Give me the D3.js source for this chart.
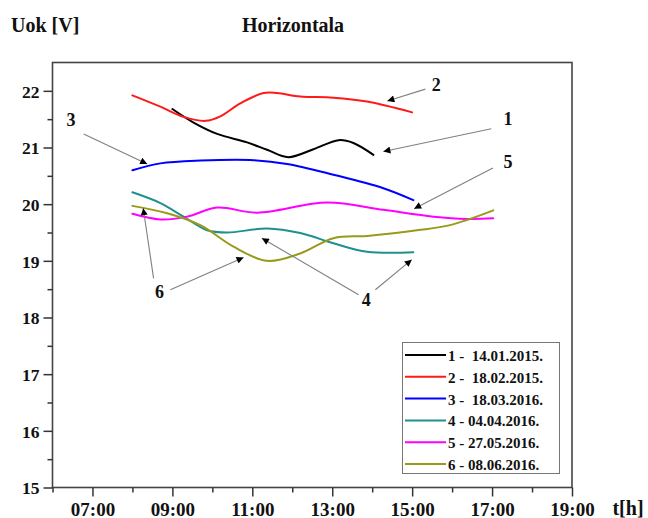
<!DOCTYPE html>
<html><head><meta charset="utf-8">
<script src="https://cdn.jsdelivr.net/npm/d3@7"></script>
<style>
html,body{margin:0;padding:0;background:#fff;}
text{font-family:"Liberation Serif","Times New Roman",serif;font-weight:bold;fill:#111;}
</style></head>
<body><svg id="c" width="648" height="518"></svg>
<script>
// ---- data ----
const seriesNames = ["1 -  14.01.2015.","2 -  18.02.2015.","3 -  18.03.2016.","4 - 04.04.2016.","5 - 27.05.2016.","6 - 08.06.2016."];
const seriesColors = ["#000000","#ff1a1a","#0000ff","#1f9090","#ff00ff","#9a9a1a"];
const s1h = [9.0, 9.53, 10.12, 10.87, 11.37, 11.9, 12.53, 13.16, 13.53, 14.03];
const s1v = [21.68, 21.44, 21.24, 21.09, 20.96, 20.83, 20.97, 21.13, 21.08, 20.87];
const s2h = [8.0, 8.7, 9.28, 9.83, 10.2, 10.7, 11.28, 11.62, 12.2, 13.03, 13.87, 15.0];
const s2v = [21.92, 21.72, 21.54, 21.47, 21.55, 21.78, 21.96, 21.96, 21.9, 21.88, 21.81, 21.62];
const s3h = [8.0, 8.7, 9.7, 10.95, 11.87, 13.03, 14.28, 15.03];
const s3v = [20.6, 20.72, 20.77, 20.78, 20.71, 20.52, 20.28, 20.07];
const s4h = [8.0, 8.7, 9.28, 9.87, 10.37, 11.37, 12.2, 13.03, 13.87, 15.03];
const s4v = [20.21, 20.02, 19.78, 19.54, 19.5, 19.57, 19.49, 19.31, 19.16, 19.15];
const s5h = [8.0, 8.7, 9.37, 10.12, 11.12, 12.87, 14.28, 15.53, 16.37, 17.03];
const s5v = [19.83, 19.73, 19.78, 19.94, 19.85, 20.03, 19.9, 19.78, 19.74, 19.75];
const s6h = [8.0, 8.87, 9.7, 10.53, 11.37, 12.2, 13.03, 13.87, 15.12, 15.95, 17.03];
const s6v = [19.97, 19.84, 19.63, 19.25, 19.0, 19.13, 19.4, 19.44, 19.54, 19.63, 19.89];
const xTickValues = [7, 9, 11, 13, 15, 17, 19];
const xTickLabels = ["07:00","09:00","11:00","13:00","15:00","17:00","19:00"];
const yTickValues = [15, 16, 17, 18, 19, 20, 21, 22];
const yTickLabels = ["15","16","17","18","19","20","21","22"];
// annotations in data units: label, label position, arrows [fromH, fromV, toH, toV]
const annLabels = ["2","1","5","3","6","4"];
const annPos = [[15.6,22.0],[17.4,21.4],[17.4,20.64],[6.46,21.38],[8.68,18.35],[13.85,18.2]];
const annArrows = [
  [[15.33,22.03,14.38,21.82]],
  [[16.98,21.33,14.28,20.93]],
  [[17.02,20.64,15.05,19.92]],
  [[6.78,21.24,8.37,20.71]],
  [[8.53,18.69,8.27,19.93],[8.95,18.49,10.78,19.06]],
  [[13.66,18.4,11.24,19.4],[14.08,18.49,14.99,19.02]]
];

const seriesH = [s1h,s2h,s3h,s4h,s5h,s6h];
const seriesV = [s1v,s2v,s3v,s4v,s5v,s6v];

// ---- drawing ----
const svg = d3.select("#c");
const L = 52.5, R = 572, T = 62.5, B = 487.5;
const x = d3.scaleLinear().domain([6,19]).range([L,R]);
const y = d3.scaleLinear().domain([15,22.5]).range([B,T]);

const defs = svg.append("defs");
defs.append("marker").attr("id","ah").attr("viewBox","0 0 10 10").attr("refX",10).attr("refY",5)
  .attr("markerWidth",9).attr("markerHeight",7).attr("markerUnits","userSpaceOnUse").attr("orient","auto")
  .append("path").attr("d","M0,0L10,5L0,10z").attr("fill","#000");

// frame
svg.append("rect").attr("x",L).attr("y",T).attr("width",R-L).attr("height",B-T)
  .attr("fill","none").attr("stroke","#444").attr("stroke-width",1.6);

// x axis
const xAx = d3.axisBottom(x).tickValues(xTickValues).tickSize(9)
  .tickFormat((d,i)=>xTickLabels[i]);
const gx = svg.append("g").attr("transform",`translate(0,${B})`).call(xAx);
gx.select(".domain").remove();
gx.selectAll(".tick line").attr("stroke","#333").attr("stroke-width",1.5);
gx.selectAll(".tick text").attr("dy",null).attr("y",28).style("font-size","19px").attr("fill","#111");
const xMinor = d3.axisBottom(x).tickValues(d3.range(6,19,1).filter(h=>h%2===0)).tickSize(5).tickFormat("");
const gxm = svg.append("g").attr("transform",`translate(0,${B})`).call(xMinor);
gxm.select(".domain").remove();
gxm.selectAll(".tick line").attr("stroke","#333").attr("stroke-width",1.5);

// y axis
const yAx = d3.axisLeft(y).tickValues(yTickValues).tickSize(9).tickFormat((d,i)=>yTickLabels[i]);
const gy = svg.append("g").attr("transform",`translate(${L},0)`).call(yAx);
gy.select(".domain").remove();
gy.selectAll(".tick line").attr("stroke","#333").attr("stroke-width",1.5);
gy.selectAll(".tick text").attr("x",-13).attr("dy","0.36em").style("font-size","17.5px").attr("fill","#111");
const yMinor = d3.axisLeft(y).tickValues(d3.range(15.5,22.5,1)).tickSize(5).tickFormat("");
const gym = svg.append("g").attr("transform",`translate(${L},0)`).call(yMinor);
gym.select(".domain").remove();
gym.selectAll(".tick line").attr("stroke","#333").attr("stroke-width",1.5);

// titles
svg.append("text").attr("x",11).attr("y",32).style("font-size","20px").text("Uok [V]");
svg.append("text").attr("x",293).attr("y",32).attr("text-anchor","middle").style("font-size","20px").text("Horizontala");
svg.append("text").attr("x",628).attr("y",515).attr("text-anchor","middle").style("font-size","20px").text("t[h]");

// curves
const line = d3.line().x(d=>x(d[0])).y(d=>y(d[1])).curve(d3.curveCatmullRom.alpha(0.5));
seriesH.forEach((hs,i)=>{
  const pts = hs.map((h,j)=>[h, seriesV[i][j]]);
  svg.append("path").attr("d",line(pts)).attr("fill","none")
    .attr("stroke",seriesColors[i]).attr("stroke-width",2).attr("stroke-linejoin","round").attr("stroke-linecap","round");
});

// annotations
annLabels.forEach((lab,i)=>{
  annArrows[i].forEach(a=>{
    svg.append("line").attr("x1",x(a[0])).attr("y1",y(a[1])).attr("x2",x(a[2])).attr("y2",y(a[3]))
      .attr("stroke","#808080").attr("stroke-width",1.1).attr("marker-end","url(#ah)");
  });
  svg.append("text").attr("x",x(annPos[i][0])).attr("y",y(annPos[i][1])).attr("text-anchor","middle")
    .style("font-size","18px").text(lab);
});

// legend
const lg = svg.append("g");
lg.append("rect").attr("x",402.5).attr("y",342.5).attr("width",157).attr("height",131)
  .attr("fill","#fff").attr("stroke","#777").attr("stroke-width",1);
seriesNames.forEach((n,i)=>{
  const yy = 355 + i*21.8;
  lg.append("line").attr("x1",405).attr("x2",446).attr("y1",yy).attr("y2",yy)
    .attr("stroke",seriesColors[i]).attr("stroke-width",2);
  lg.append("text").attr("x",448).attr("y",yy+6).style("font-size","15px").style("white-space","pre").text(n);
});
</script></body></html>
